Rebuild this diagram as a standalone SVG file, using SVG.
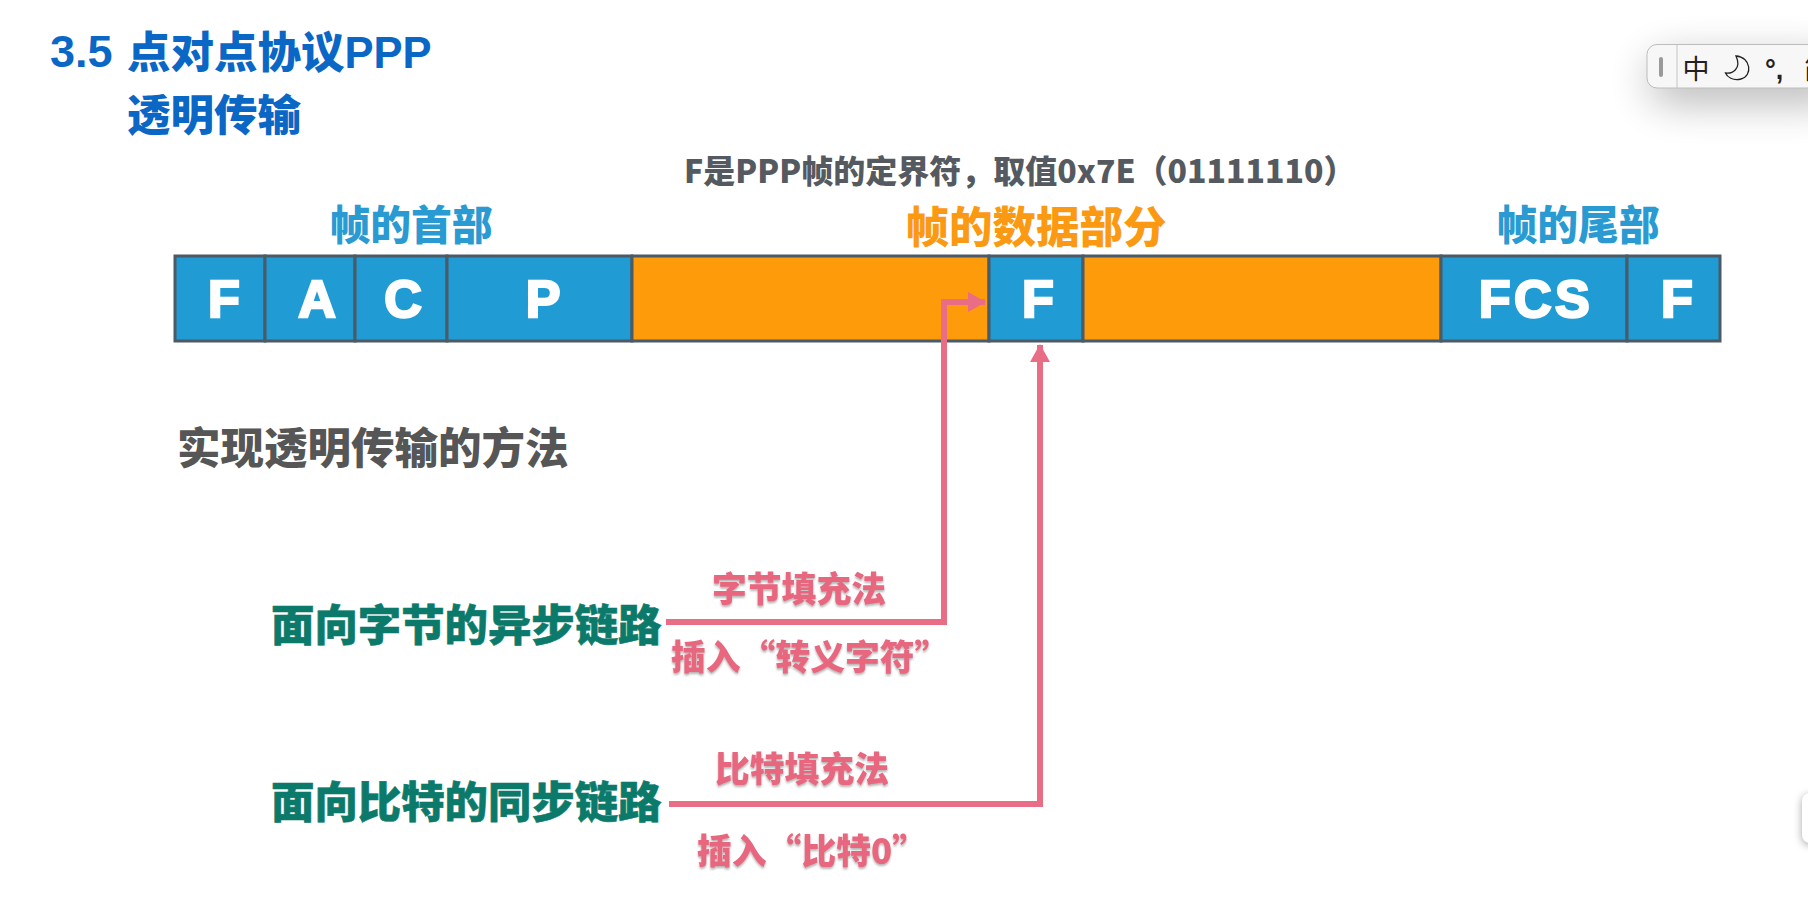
<svg xmlns="http://www.w3.org/2000/svg" width="1808" height="921" viewBox="0 0 1808 921">
<style>
text{font-family:"Liberation Sans","Noto Sans CJK SC",sans-serif;font-weight:700}
.cjk{font-family:"Noto Sans CJK SC","Liberation Sans",sans-serif;font-weight:900}
.title{font-size:43.5px;fill:#0a67c5}
.hd{font-size:40.800px;text-anchor:middle}
.cell{font-size:52px;fill:#fff;text-anchor:middle;font-family:"Liberation Sans",sans-serif;font-weight:700;stroke:#fff;stroke-width:2.500}
.box{stroke:#4a5a66;stroke-width:3}
.blue{fill:#209bd4}
.org{fill:#fe9b0b}
.green{font-size:43.400px;fill:#0b7a6a;stroke:#0b7a6a;stroke-width:.6}
.pink{font-size:34.800px;fill:#e9667f;filter:url(#sh)}
.line{fill:none;stroke:#e96d85;stroke-width:6}
</style>
<defs>
<filter id="sh" x="-10%" y="-20%" width="120%" height="150%"><feDropShadow dx="0" dy="2" stdDeviation="1" flood-color="#777" flood-opacity=".55"/></filter>
<filter id="soft" x="-40%" y="-120%" width="180%" height="340%"><feGaussianBlur stdDeviation="22"/></filter>
<filter id="soft2" x="-100%" y="-30%" width="300%" height="160%"><feGaussianBlur stdDeviation="4"/></filter>
<marker id="arr" markerUnits="userSpaceOnUse" markerWidth="18" markerHeight="20" refX="17" refY="10" orient="auto"><path d="M0,0L18,10L0,20Z" fill="#e96d85"/></marker>
</defs>
<rect width="1808" height="921" fill="#fff"/>
<g id="title">
<text class="title" x="50" y="67" style="font-size:45px;font-family:'Liberation Sans','Noto Sans CJK SC',sans-serif">3.5</text>
<text class="title cjk" x="127" y="68">点对点协议<tspan style="font-family:'Liberation Sans',sans-serif;font-weight:700">PPP</tspan></text>
<text class="title cjk" x="127" y="131">透明传输</text>
</g>
<g id="note"><text x="684" y="183" style="font-size:32px;fill:#555a60" class="cjk">F是PPP帧的定界符，取值0x7E（01111110）</text></g>
<g id="head-label"><text class="hd cjk" x="411" y="240" fill="#2a9bd2">帧的首部</text></g>
<g id="data-label"><text class="hd cjk" x="1036" y="243" style="font-size:43.500px" fill="#fb9a12">帧的数据部分</text></g>
<g id="tail-label"><text class="hd cjk" x="1578" y="240" fill="#2a9bd2">帧的尾部</text></g>
<g id="frame">
<g id="cell-F1"><rect class="box blue" x="175" y="256" width="90" height="85"/><text class="cell" x="224" y="317">F</text></g>
<g id="cell-A"><rect class="box blue" x="265" y="256" width="90" height="85"/><text class="cell" x="317" y="317">A</text></g>
<g id="cell-C"><rect class="box blue" x="355" y="256" width="92" height="85"/><text class="cell" x="403" y="317">C</text></g>
<g id="cell-P"><rect class="box blue" x="447" y="256" width="185" height="85"/><text class="cell" x="543" y="317">P</text></g>
<g id="data-1"><rect class="box org" x="632" y="256" width="357" height="85"/></g>
<g id="cell-F2"><rect class="box blue" x="989" y="256" width="94" height="85"/><text class="cell" x="1038" y="317">F</text></g>
<g id="data-2"><rect class="box org" x="1083" y="256" width="358" height="85"/></g>
<g id="cell-FCS"><rect class="box blue" x="1441" y="256" width="186" height="85"/><text class="cell" x="1536" y="317" style="letter-spacing:3.500px">FCS</text></g>
<g id="cell-F3"><rect class="box blue" x="1627" y="256" width="93" height="85"/><text class="cell" x="1677" y="317">F</text></g>
</g>
<g id="method"><text x="177" y="464" class="cjk" style="font-size:43.500px;fill:#565656">实现透明传输的方法</text></g>
<g id="connectors">
<path class="line" d="M666,622H944V302H985" marker-end="url(#arr)"/>
<path class="line" d="M669,804H1040V345" marker-end="url(#arr)"/>
</g>
<g id="async"><text class="green cjk" x="271" y="641">面向字节的异步链路</text></g>
<g id="sync"><text class="green cjk" x="271" y="818">面向比特的同步链路</text></g>
<g id="byte-label"><text class="pink cjk" x="712" y="602">字节填充法</text></g>
<g id="escape-label"><text class="pink cjk" x="671" y="670">插入“转义字符”</text></g>
<g id="bit-label"><text class="pink cjk" x="715" y="782">比特填充法</text></g>
<g id="zero-label"><text class="pink cjk" x="697" y="864">插入“比特0”</text></g>
<g id="ime">
<rect x="1652" y="60" width="190" height="40" rx="10" fill="#000" opacity=".32" filter="url(#soft)"/>
<rect x="1647" y="44.500" width="170" height="43.500" rx="10" fill="#f7f7f7" stroke="#bdbdbd"/>
<path d="M1677,45V88" stroke="#c4c4c4"/>
<rect x="1659" y="57" width="4" height="20" rx="2" fill="#9a9a9a"/>
<text x="1696" y="79" text-anchor="middle" style="font-size:27px;font-weight:400;fill:#222;font-family:'Noto Sans CJK SC',sans-serif">中</text>
<path d="M1736,56C1751,57 1753,76 1741,79C1733,81 1727,77 1725.500,73C1732,74 1742,69 1736,56Z" fill="none" stroke="#222" stroke-width="1.300"/>
<text x="1765" y="79" style="font-size:27px;font-weight:700;fill:#222;font-family:'Liberation Sans',sans-serif">°,</text>
<text x="1804" y="79" style="font-size:27px;font-weight:400;fill:#222;font-family:'Noto Sans CJK SC',sans-serif">简</text>
</g>
<g id="edge-tab">
<rect x="1802" y="795" width="30" height="50" rx="8" fill="#000" opacity=".35" filter="url(#soft2)"/>
<rect x="1802" y="793" width="30" height="50" rx="8" fill="#fff"/>
</g>
</svg>
